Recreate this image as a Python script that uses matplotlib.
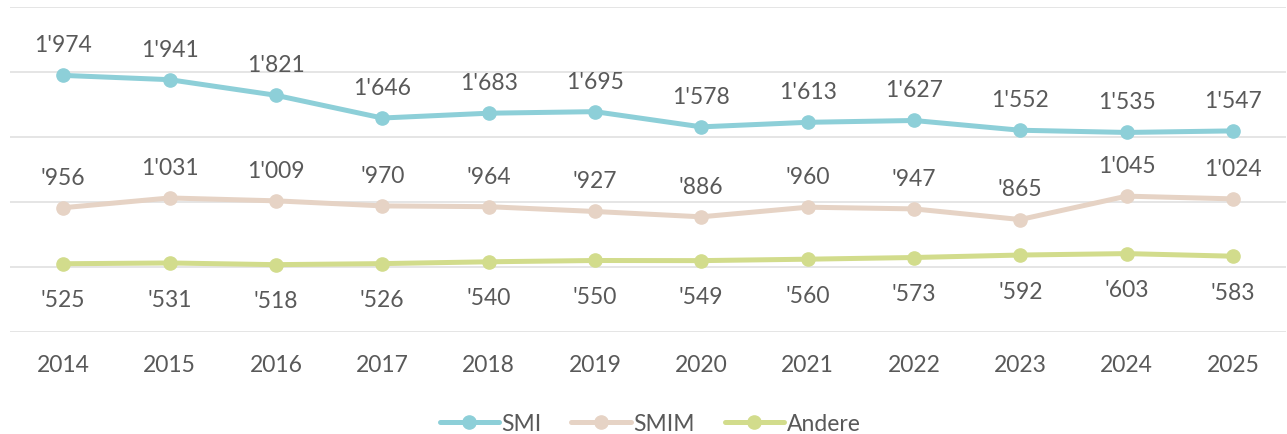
import matplotlib.pyplot as plt

plt.rcParams['font.family'] = ['Lato', 'DejaVu Sans']

# Data
years = ["2014", "2015", "2016", "2017", "2018", "2019", "2020", "2021", "2022", "2023", "2024", "2025"]
smi = [1974, 1941, 1821, 1646, 1683, 1695, 1578, 1613, 1627, 1552, 1535, 1547]
smim = [956, 1031, 1009, 970, 964, 927, 886, 960, 947, 865, 1045, 1024]
andere = [525, 531, 518, 526, 540, 550, 549, 560, 573, 592, 603, 583]

colors = {"SMI": "#8DCFD8", "SMIM": "#E6D3C5", "Andere": "#D2DC8C"}
text_color = "#595959"


def fmt(v):
    # thousands separator as in the source: 1'974, '956
    return "{}'{:03d}".format(v // 1000, v % 1000) if v >= 1000 else "'{:03d}".format(v)


fig = plt.figure(figsize=(12.87, 4.35), dpi=100)
ax = fig.add_axes([0.0078, 0.2345, 0.9915, 0.7471])

x = list(range(len(years)))
for name, vals, offset in [("SMI", smi, 22), ("SMIM", smim, 22), ("Andere", andere, -26)]:
    ax.plot(x, vals, color=colors[name], lw=3.6, marker="o", ms=9.5, label=name,
            solid_capstyle="round")
    for xi, v in zip(x, vals):
        ax.annotate(fmt(v), (xi, v), xytext=(0, offset), textcoords="offset points",
                    ha="center", va="center", fontsize=16.5, color=text_color)

ax.set_xlim(-0.5, len(years) - 0.5)
ax.set_ylim(0, 2500)
ax.set_yticks(range(0, 2501, 500))
ax.yaxis.grid(True, color="#E3E3E3", lw=1.3)
ax.set_axisbelow(True)
ax.tick_params(axis="y", left=False, labelleft=False)
ax.set_xticks(x)
ax.set_xticklabels(years, fontsize=16.5, color=text_color)
ax.tick_params(axis="x", length=0, pad=16)
for s in ax.spines.values():
    s.set_visible(False)

fig.legend(loc="center", bbox_to_anchor=(0.505, 0.025), ncol=3, frameon=False,
           fontsize=16.5, labelcolor=text_color, handlelength=2.6, handletextpad=0.1,
           columnspacing=1.3)

fig.savefig("out.png", dpi=100)
